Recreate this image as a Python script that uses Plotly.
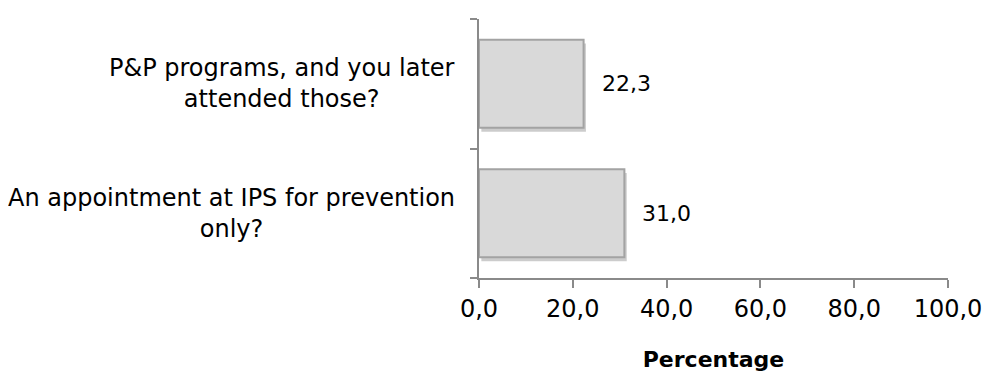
import plotly.graph_objects as go

categories = ["An appointment at IPS for prevention<br>only?",
              "P&P programs, and you later<br>attended those?"]
values = [31.0, 22.3]
value_labels = ["31,0", "22,3"]
tick_vals = [0, 20, 40, 60, 80, 100]
tick_text = ["0,0", "20,0", "40,0", "60,0", "80,0", "100,0"]

FONT = "DejaVu Sans, Liberation Sans, Arial, sans-serif"
AXIS = "#8a8a8a"
W = 0.68

fig = go.Figure()
# soft drop shadow
fig.add_trace(go.Bar(
    y=list(range(len(categories))), x=values, orientation="h",
    base=0.5, width=W, offset=-W / 2 - 0.03,
    marker=dict(color="rgba(0,0,0,0.2)", line=dict(width=0)),
    hoverinfo="skip", showlegend=False))
fig.add_trace(go.Bar(
    y=list(range(len(categories))), x=values, orientation="h",
    width=W, offset=-W / 2,
    marker=dict(color="#d9d9d9", line=dict(color="#a3a3a3", width=2)),
    showlegend=False))

for i, (v, lab) in enumerate(zip(values, value_labels)):
    fig.add_annotation(x=v, y=i, xref="x", yref="y", text=lab, showarrow=False,
                       xanchor="left", xshift=16, font=dict(family=FONT, size=22, color="#000"))
for i, c in enumerate(categories):
    fig.add_annotation(x=0, y=i, xref="paper", yref="y", text=c, showarrow=False,
                       xanchor="right", xshift=-22, align="center",
                       font=dict(family=FONT, size=24, color="#000"))

fig.update_layout(
    width=984, height=376,
    margin=dict(l=471, r=44, t=11, b=106),
    plot_bgcolor="white", paper_bgcolor="white",
    barmode="overlay",
    font=dict(family=FONT, color="#000"),
    xaxis=dict(range=[0, 100], tickvals=tick_vals, ticktext=tick_text,
               showgrid=False, zeroline=False, showline=True, linecolor=AXIS, linewidth=2,
               ticks="outside", ticklen=8, tickwidth=2, tickcolor=AXIS,
               tickfont=dict(family=FONT, size=24, color="#000"),
               title=dict(text="<b>Percentage</b>", font=dict(family=FONT, size=22, color="#000"), standoff=30)),
    yaxis=dict(range=[-0.5, 1.5], tickvals=[-0.5, 0.5, 1.5], ticktext=["", "", ""],
               showgrid=False, zeroline=False, showline=True, linecolor=AXIS, linewidth=2,
               ticks="outside", ticklen=7, tickwidth=2, tickcolor=AXIS),
)

fig.write_html("out.html")
